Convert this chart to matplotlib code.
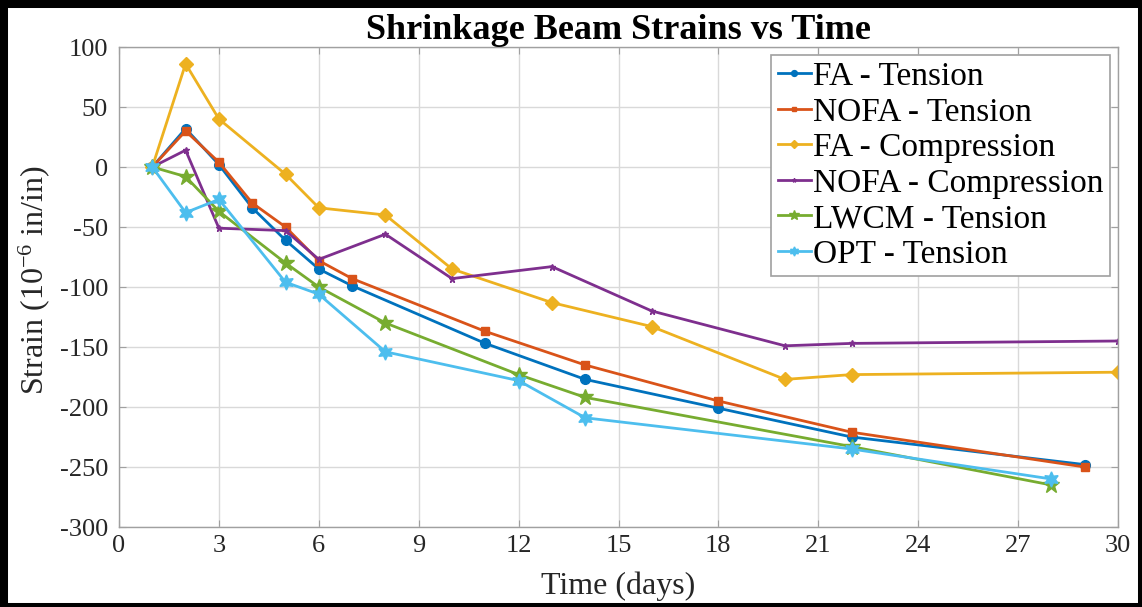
import matplotlib
matplotlib.use("Agg")
import matplotlib.pyplot as plt
from matplotlib.patches import Rectangle

plt.rcParams['font.family'] = ['Liberation Serif', 'DejaVu Serif']
plt.rcParams['mathtext.fontset'] = 'custom'
plt.rcParams['mathtext.rm'] = 'Liberation Serif'
plt.rcParams['mathtext.default'] = 'regular'
plt.rcParams['axes.unicode_minus'] = False

# ---- data ----
fa_t_days = [1, 2, 3, 4, 5, 6, 7, 11, 14, 18, 22, 29]
fa_t_vals = [0, 32, 2, -34, -61, -85, -99, -147, -177, -201, -225, -248]

nofa_t_days = [1, 2, 3, 4, 5, 6, 7, 11, 14, 18, 22, 29]
nofa_t_vals = [0, 30, 4, -30, -50, -78, -93, -137, -165, -195, -221, -250]

fa_c_days = [1, 2, 3, 5, 6, 8, 10, 13, 16, 20, 22, 30]
fa_c_vals = [0, 86, 40, -6, -34, -40, -85, -113, -133, -177, -173, -171]

nofa_c_days = [1, 2, 3, 5, 6, 8, 10, 13, 16, 20, 22, 30]
nofa_c_vals = [0, 14, -51, -53, -77, -56, -93, -83, -120, -149, -147, -145]

lwcm_days = [1, 2, 3, 5, 6, 8, 12, 14, 22, 28]
lwcm_vals = [0, -8, -37, -80, -100, -130, -173, -192, -233, -265]

opt_days = [1, 2, 3, 5, 6, 8, 12, 14, 22, 28]
opt_vals = [0, -38, -27, -96, -106, -154, -178, -209, -235, -260]

labels = ["FA - Tension", "NOFA - Tension", "FA - Compression",
          "NOFA - Compression", "LWCM - Tension", "OPT - Tension"]
x_ticks = list(range(0, 31, 3))
y_ticks = list(range(-300, 101, 50))

colors = ['#0072BD', '#D95319', '#EDB120', '#7E2F8E', '#77AC30', '#4DBEEE']
markers = ['o', 's', 'D', '*', '*', (6, 1, 0)]
msizes = [7, 6, 7.5, 5, 12, 11]

W, H = 1142, 607
fig = plt.figure(figsize=(W / 100, H / 100), dpi=100)
ax = fig.add_axes([119 / W, (H - 527) / H, (1118 - 119) / W, (527 - 47) / H])

series = [(fa_t_days, fa_t_vals), (nofa_t_days, nofa_t_vals), (fa_c_days, fa_c_vals),
          (nofa_c_days, nofa_c_vals), (lwcm_days, lwcm_vals), (opt_days, opt_vals)]
for (d, v), c, m, ms, lab in zip(series, colors, markers, msizes, labels):
    ax.plot(d, v, color=c, marker=m, markersize=ms, linewidth=2.0, label=lab,
            markeredgewidth=1.0)

ax.set_xlim(0, 30)
ax.set_ylim(-300, 100)
ax.set_xticks(x_ticks)
ax.set_yticks(y_ticks)
ax.grid(True, color='#d9d9d9', linewidth=1.0)
ax.set_axisbelow(True)
for s in ax.spines.values():
    s.set_color('#a0a0a0')
    s.set_linewidth(1.0)
ax.tick_params(direction='in', length=5, color='#a0a0a0', labelsize=19,
               labelcolor='#262626', top=True, right=True)
ax.tick_params(axis='y', pad=8)
ax.tick_params(axis='x', pad=6)

ax.set_title("Shrinkage Beam Strains vs Time", fontsize=26, fontweight='bold', pad=6)
ax.set_xlabel("Time (days)", fontsize=23, color='#262626', labelpad=10)
ax.set_ylabel("Strain (10$^{-6}$ in/in)", fontsize=23, color='#262626')
ax.yaxis.set_label_coords(-0.067, 0.515)

leg = ax.legend(loc='upper right', bbox_to_anchor=(1110 / W, 1 - 55 / H),
                bbox_transform=fig.transFigure, borderaxespad=0, fontsize=24,
                handlelength=1.0, handletextpad=0.05, labelspacing=0.15,
                borderpad=0.2, fancybox=False, framealpha=1, markerscale=0.6)
leg.get_frame().set_edgecolor('#a0a0a0')
leg.get_frame().set_linewidth(1.2)

# black frame around figure
fig.patches.append(Rectangle((3 / W, 0), (W - 3) / W, (H - 3) / H, transform=fig.transFigure,
                             fill=False, edgecolor='black', linewidth=6.5,
                             joinstyle='miter', zorder=10))

fig.savefig("out.png", dpi=100)
